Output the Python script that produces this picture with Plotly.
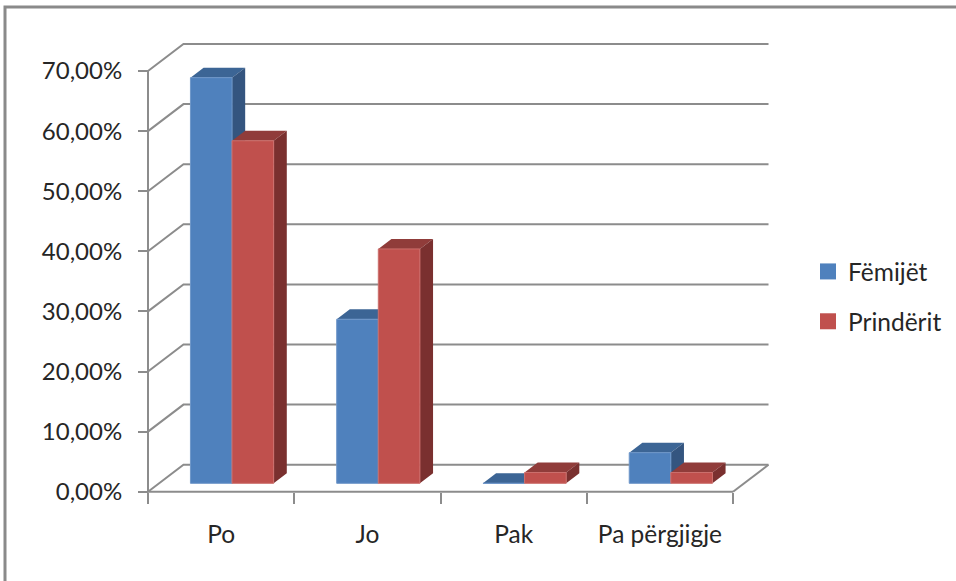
import plotly.graph_objects as go

categories = ["Po", "Jo", "Pak", "Pa përgjigje"]
femijet = [67.5, 27.3, 0.0, 5.1]
prinderit = [57.0, 39.0, 1.8, 1.8]
y_ticks = [0, 10, 20, 30, 40, 50, 60, 70]
y_labels = ["0,00%", "10,00%", "20,00%", "30,00%", "40,00%", "50,00%", "60,00%", "70,00%"]

# oblique projection of the depth axis, in data units
DX, DY = 0.2425, 4.49
D0, D1 = 0.31, 0.68
BAR_START, BAR_W = 0.215, 0.2845

GRID = "#8c8c8c"
FONT = "Lato"
TEXT = "#262626"


def proj(x, y, d):
    return x + d * DX, y + d * DY


def poly_trace(polys, color, edge=None):
    xs, ys = [], []
    for poly in polys:
        for px_, py_ in poly:
            xs.append(px_)
            ys.append(py_)
        xs.append(None)
        ys.append(None)
    return go.Scatter(x=xs, y=ys, mode="lines", fill="toself", fillcolor=color,
                      line=dict(color=edge or color, width=1 if edge else 0),
                      showlegend=False, hoverinfo="skip", connectgaps=False)


def bar_traces(values, offset, c_front, c_top, c_side, c_edge):
    fronts, tops, sides = [], [], []
    for i, v in enumerate(values):
        x0 = i + BAR_START + offset * BAR_W
        x1 = x0 + BAR_W
        fronts.append([proj(x0, 0, D0), proj(x1, 0, D0), proj(x1, v, D0), proj(x0, v, D0), proj(x0, 0, D0)])
        tops.append([proj(x0, v, D0), proj(x1, v, D0), proj(x1, v, D1), proj(x0, v, D1), proj(x0, v, D0)])
        sides.append([proj(x1, 0, D0), proj(x1, 0, D1), proj(x1, v, D1), proj(x1, v, D0), proj(x1, 0, D0)])
    return [poly_trace(tops, c_top), poly_trace(sides, c_side), poly_trace(fronts, c_front, c_edge)]


fig = go.Figure()

# walls: slanted + back gridlines, then the two front axis lines
n = len(categories)
gx, gy = [], []
for v in y_ticks:
    gx += [0, DX, n + DX, None]
    gy += [v, v + DY, v + DY, None]
gx += [n, n + DX, None]
gy += [0, DY, None]
gx += [0, 0, None, 0, n, None]
gy += [y_ticks[0], y_ticks[-1], None, 0, 0, None]
fig.add_trace(go.Scatter(x=gx, y=gy, mode="lines", line=dict(color=GRID, width=2),
                         showlegend=False, hoverinfo="skip"))

for t in bar_traces(femijet, 0, "#4F81BD", "#3C6595", "#34557F", "#6F97C9"):
    fig.add_trace(t)
for t in bar_traces(prinderit, 1, "#C0504D", "#903C3A", "#7A302F", "#CC6F6C"):
    fig.add_trace(t)

for name, col, g in [("Fëmijët", "#4F81BD", "a"), ("Prindërit", "#C0504D", "b")]:
    fig.add_trace(go.Scatter(x=[None], y=[None], mode="markers", name=name, legendgroup=g,
                             marker=dict(symbol="square", size=16, color=col)))

W, H = 956, 581
L, R, T, B = 144, 772, 40, 495     # plot box, slightly larger than the drawn walls
X0, Y0 = 148, 491.7                # pixel position of the front axes
UX, UY = 146.26, 6.01              # pixels per category / per percentage point


def px(x):
    return (x - L) / (R - L)


def py(y):
    return 1 - (y - T) / (B - T)


fig.update_layout(
    width=W, height=H, autosize=False,
    margin=dict(l=L, r=W - R, t=T, b=H - B, pad=0),
    paper_bgcolor="white", plot_bgcolor="white",
    font=dict(family=FONT, size=24, color=TEXT),
    legend=dict(xref="container", yref="container", x=808 / W, y=1 - 249 / H,
                xanchor="left", yanchor="top",
                tracegroupgap=15, font=dict(family=FONT, size=24.5, color=TEXT),
                bgcolor="rgba(0,0,0,0)"),
    shapes=[dict(type="path", xref="paper", yref="paper",
                 path=f"M {px(5)} {py(581)} L {px(5)} {py(7)} L {px(956)} {py(7)}",
                 line=dict(color="#8a8a8a", width=3))],
)
fig.update_xaxes(range=[(L - X0) / UX, (R - X0) / UX], showgrid=False, zeroline=False, showline=False,
                 anchor="free", position=py(Y0),
                 tickmode="array",
                 tickvals=[i + 0.5 for i in range(n)], ticktext=categories,
                 ticks="", ticklabelstandoff=26,
                 minor=dict(tickmode="array", tickvals=list(range(n + 1)), ticks="outside",
                            ticklen=11, tickwidth=2, tickcolor=GRID),
                 tickfont=dict(family=FONT, size=24.5, color=TEXT))
fig.update_yaxes(range=[(Y0 - B) / UY, (Y0 - T) / UY], showgrid=False, zeroline=False, showline=False,
                 anchor="free", position=px(X0),
                 tickmode="array", tickvals=y_ticks, ticktext=y_labels,
                 ticks="outside", ticklen=10, tickwidth=2, tickcolor=GRID, ticklabelstandoff=11,
                 tickfont=dict(family=FONT, size=24, color=TEXT))

fig.write_html("out.html", config=dict(displayModeBar=False),
               post_script="document.body.style.margin='0';document.body.style.overflow='hidden';")
